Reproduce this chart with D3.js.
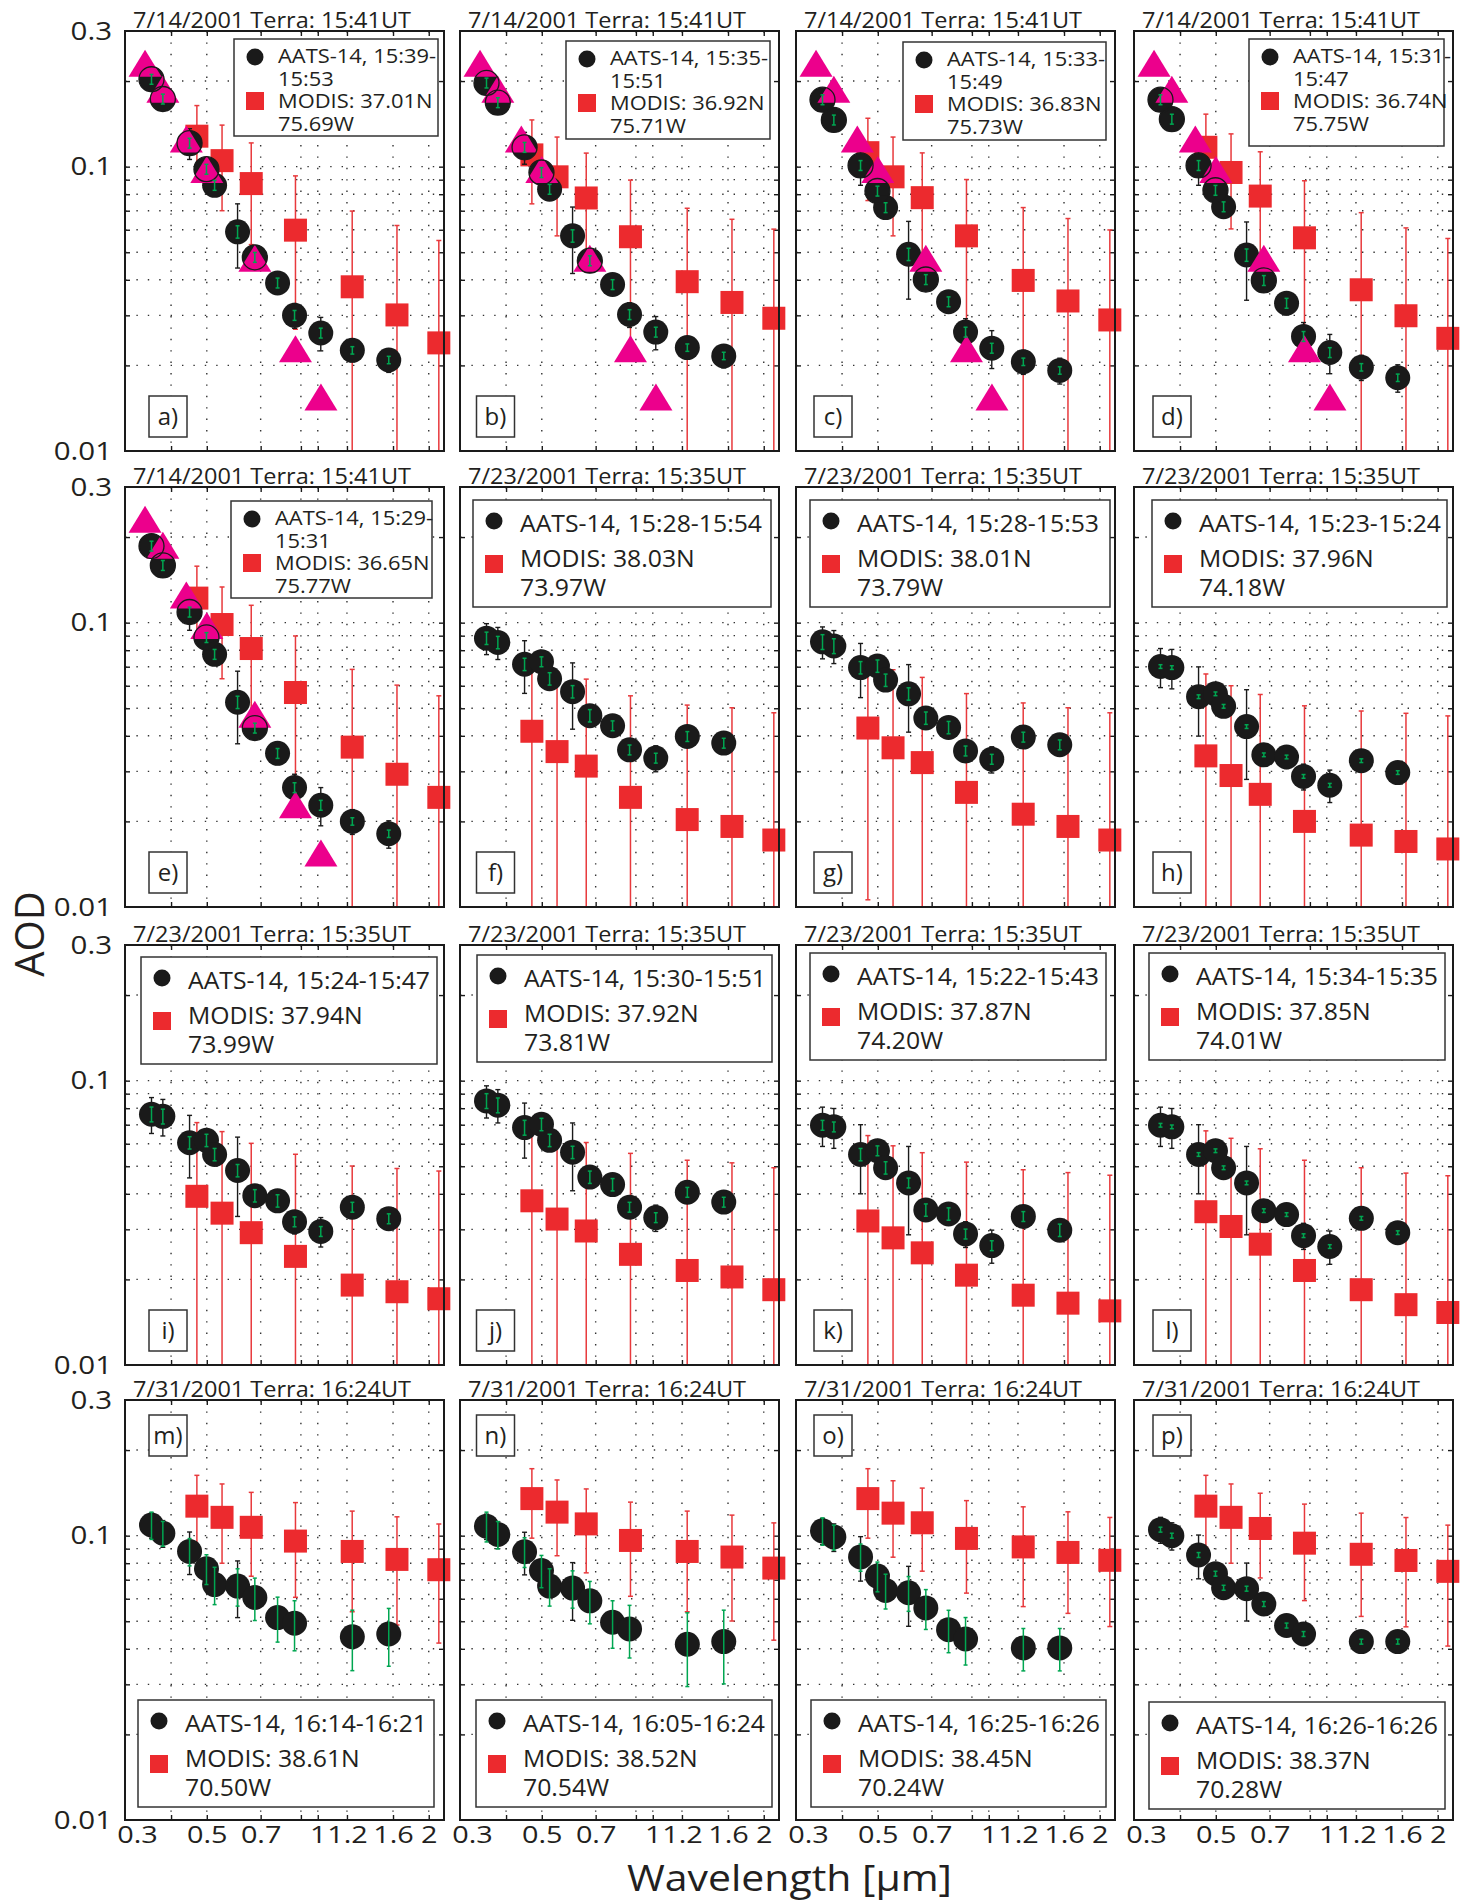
<!DOCTYPE html>
<html lang="en">
<head>
<meta charset="UTF-8">
<title>AATS-14 and MODIS AOD spectra</title>
<script src="https://d3js.org/d3.v7.min.js"></script>
<style>
  body { margin: 0; background: #fff; }
  svg text { font-family: "Open Sans", "DejaVu Sans", sans-serif; fill: #231f20; }
</style>
</head>
<body>
<svg width="1473" height="1901"></svg>
<script>
// wavelengths in micrometres
const aatsWl = [0.354, 0.380, 0.449, 0.499, 0.525, 0.606, 0.675, 0.778, 0.865, 1.019, 1.241, 1.558];
const modisWl = [0.47, 0.55, 0.66, 0.87, 1.24, 1.64, 2.13];
const aeronetWl = [0.34, 0.38, 0.44, 0.50, 0.675, 0.87, 1.02];

const panelLabels = ["a)", "b)", "c)", "d)", "e)", "f)", "g)", "h)", "i)", "j)", "k)", "l)", "m)", "n)", "o)", "p)"];
const titles = [
  "7/14/2001 Terra: 15:41UT", "7/14/2001 Terra: 15:41UT", "7/14/2001 Terra: 15:41UT", "7/14/2001 Terra: 15:41UT",
  "7/14/2001 Terra: 15:41UT", "7/23/2001 Terra: 15:35UT", "7/23/2001 Terra: 15:35UT", "7/23/2001 Terra: 15:35UT",
  "7/23/2001 Terra: 15:35UT", "7/23/2001 Terra: 15:35UT", "7/23/2001 Terra: 15:35UT", "7/23/2001 Terra: 15:35UT",
  "7/31/2001 Terra: 16:24UT", "7/31/2001 Terra: 16:24UT", "7/31/2001 Terra: 16:24UT", "7/31/2001 Terra: 16:24UT"
];
const aatsTimes = ["15:39-15:53", "15:35-15:51", "15:33-15:49", "15:31-15:47", "15:29-15:31",
  "15:28-15:54", "15:28-15:53", "15:23-15:24", "15:24-15:47", "15:30-15:51", "15:22-15:43", "15:34-15:35",
  "16:14-16:21", "16:05-16:24", "16:25-16:26", "16:26-16:26"];
const modisLat = ["37.01N", "36.92N", "36.83N", "36.74N", "36.65N", "38.03N", "38.01N", "37.96N",
  "37.94N", "37.92N", "37.87N", "37.85N", "38.61N", "38.52N", "38.45N", "38.37N"];
const modisLon = ["75.69W", "75.71W", "75.73W", "75.75W", "75.77W", "73.97W", "73.79W", "74.18W",
  "73.99W", "73.81W", "74.20W", "74.01W", "70.50W", "70.54W", "70.24W", "70.28W"];

// AATS-14 AOD, one row per panel
const aatsAod = [
  [0.203, 0.173, 0.121, 0.098, 0.086, 0.059, 0.048, 0.039, 0.030, 0.026, 0.0226, 0.0209],   // a
  [0.197, 0.168, 0.117, 0.0954, 0.0833, 0.0571, 0.0467, 0.0385, 0.0302, 0.0262, 0.0231, 0.0216], // b
  [0.172, 0.146, 0.101, 0.0821, 0.0718, 0.0492, 0.0401, 0.0335, 0.0262, 0.0230, 0.0206, 0.0192], // c
  [0.172, 0.147, 0.101, 0.0826, 0.0723, 0.0489, 0.0398, 0.0331, 0.0253, 0.0222, 0.0197, 0.0181], // d
  [0.186, 0.159, 0.109, 0.0887, 0.0774, 0.0525, 0.0426, 0.0347, 0.0263, 0.0228, 0.0200, 0.0181], // e
  [0.0882, 0.0852, 0.0714, 0.0729, 0.0635, 0.0572, 0.0471, 0.0434, 0.0357, 0.0334, 0.0398, 0.0377], // f
  [0.0856, 0.0828, 0.0695, 0.0704, 0.0628, 0.0562, 0.0462, 0.0428, 0.0354, 0.0331, 0.0396, 0.0372], // g
  [0.0701, 0.0695, 0.0549, 0.0562, 0.0508, 0.0431, 0.0343, 0.0337, 0.0288, 0.0268, 0.0327, 0.0297], // h
  [0.0762, 0.0749, 0.0605, 0.0617, 0.0550, 0.0483, 0.0394, 0.0378, 0.0319, 0.0295, 0.0359, 0.0327], // i
  [0.0849, 0.0820, 0.0684, 0.0702, 0.0617, 0.0560, 0.0458, 0.0431, 0.0359, 0.0330, 0.0405, 0.0374], // j
  [0.0697, 0.0688, 0.0550, 0.0567, 0.0494, 0.0437, 0.0351, 0.0340, 0.0289, 0.0263, 0.0333, 0.0298], // k
  [0.0697, 0.0688, 0.0550, 0.0567, 0.0494, 0.0437, 0.0349, 0.0338, 0.0285, 0.0261, 0.0328, 0.0292], // l
  [0.109, 0.102, 0.0880, 0.0765, 0.0673, 0.0665, 0.0606, 0.0515, 0.0492, null, 0.0441, 0.0451],   // m
  [0.108, 0.101, 0.0878, 0.0754, 0.0665, 0.0654, 0.0590, 0.0496, 0.0470, null, 0.0415, 0.0424],   // n
  [0.104, 0.0990, 0.0842, 0.0721, 0.0642, 0.0630, 0.0557, 0.0467, 0.0433, null, 0.0403, 0.0403],  // o
  [0.105, 0.100, 0.0855, 0.0735, 0.0656, 0.0651, 0.0575, 0.0483, 0.0451, null, 0.0424, 0.0424]    // p
];
// AATS total uncertainty (black bars), absolute AOD
const aatsErr = [0.011, 0.011, 0.015, 0.004, 0.004, 0.015, 0.003, 0.003, 0.003, 0.0035, 0.002, 0.002];
// AATS short-term variability (green bars), percent
const aatsVar = [
  [4, 4, 4, 4, 4, 5, 4, 4, 4, 4, 3, 3],
  [4, 4, 4, 4, 4, 5, 4, 4, 4, 4, 3, 3],
  [4, 4, 4, 4, 4, 5, 4, 4, 4, 4, 3, 3],
  [4, 4, 4, 4, 4, 5, 4, 4, 4, 4, 3, 3],
  [4, 4, 4, 4, 4, 5, 4, 4, 4, 4, 3, 3],
  [5, 5, 5, 4, 5, 5, 5, 4, 4, 4, 4, 4],
  [6, 6, 5, 5, 5, 5, 5, 5, 4, 4, 4, 4],
  [1.5, 1.5, 1.5, 1.5, 1.5, 1.5, 1.5, 1.5, 1.5, 1.5, 1.5, 1.5],
  [6, 6, 5, 5, 5, 5, 5, 5, 4, 4, 4, 4],
  [6, 6, 6, 5, 5, 5, 5, 5, 4, 4, 4, 4],
  [4, 4, 5, 4, 5, 4, 5, 5, 4, 4, 4, 5],
  [1.5, 1.5, 1.5, 1.5, 1.5, 1.5, 1.5, 1.5, 1.5, 1.5, 1.5, 1.5],
  [11, 10, 11, 12, 15, 15, 17, 18, 20, null, 24, 23],
  [12, 11, 12, 13, 15, 15, 17, 19, 21, null, 29, 29],
  [11, 10, 11, 12, 14, 14, 16, 17, 19, null, 17, 17],
  [2, 2, 2, 2, 2, 2, 2, 2, 2, null, 2, 2]
];

// MODIS AOD and its uncertainty, one row per panel
const modisAod = [
  [0.128, 0.105, 0.0872, 0.0598, 0.0378, 0.0301, 0.0240],
  [0.110, 0.0921, 0.0776, 0.0567, 0.0394, 0.0333, 0.0293],
  [0.112, 0.0921, 0.0778, 0.0571, 0.0398, 0.0337, 0.0289],
  [0.117, 0.0954, 0.0788, 0.0562, 0.0369, 0.0299, 0.0249],
  [0.122, 0.0985, 0.0811, 0.0568, 0.0365, 0.0293, 0.0243],
  [0.0415, 0.0352, 0.0313, 0.0243, 0.0203, 0.0192, 0.0172],
  [0.0426, 0.0363, 0.0322, 0.0253, 0.0212, 0.0192, 0.0172],
  [0.0340, 0.0290, 0.0249, 0.0200, 0.0179, 0.0170, 0.0160],
  [0.0392, 0.0342, 0.0292, 0.0241, 0.0191, 0.0181, 0.0171],
  [0.0378, 0.0326, 0.0296, 0.0245, 0.0215, 0.0204, 0.0184],
  [0.0321, 0.0280, 0.0248, 0.0207, 0.0176, 0.0165, 0.0155],
  [0.0346, 0.0307, 0.0266, 0.0215, 0.0184, 0.0163, 0.0153],
  [0.127, 0.116, 0.107, 0.0957, 0.0880, 0.0825, 0.0759],
  [0.135, 0.121, 0.110, 0.0962, 0.0880, 0.0841, 0.0769],
  [0.135, 0.120, 0.111, 0.0978, 0.0913, 0.0873, 0.0819],
  [0.127, 0.116, 0.106, 0.0941, 0.0860, 0.0818, 0.0749]
];
const modisErr = [
  [0.036, 0.035, 0.034, 0.033, 0.032, 0.032, 0.031],
  [0.036, 0.035, 0.034, 0.033, 0.032, 0.032, 0.031],
  [0.036, 0.035, 0.034, 0.033, 0.032, 0.032, 0.031],
  [0.036, 0.035, 0.034, 0.033, 0.032, 0.031, 0.031],
  [0.036, 0.035, 0.034, 0.033, 0.032, 0.031, 0.031],
  [0.032, 0.032, 0.032, 0.031, 0.031, 0.031, 0.031],
  [0.032, 0.032, 0.032, 0.031, 0.031, 0.031, 0.031],
  [0.032, 0.031, 0.031, 0.031, 0.031, 0.031, 0.031],
  [0.032, 0.032, 0.031, 0.031, 0.031, 0.031, 0.031],
  [0.032, 0.032, 0.031, 0.031, 0.031, 0.031, 0.031],
  [0.032, 0.031, 0.031, 0.031, 0.031, 0.031, 0.031],
  [0.032, 0.032, 0.031, 0.031, 0.031, 0.031, 0.031],
  [0.036, 0.036, 0.035, 0.035, 0.034, 0.034, 0.034],
  [0.037, 0.036, 0.036, 0.035, 0.034, 0.034, 0.034],
  [0.037, 0.036, 0.036, 0.035, 0.035, 0.034, 0.034],
  [0.036, 0.036, 0.035, 0.035, 0.034, 0.034, 0.034]
];

// AERONET (7/14 only, panels a-e)
const aeronetAod = [0.231, 0.187, 0.125, 0.0978, 0.0476, 0.0229, 0.0155];
const aeronetPanels = [0, 1, 2, 3, 4];
const ringIdx = [0, 1, 2, 3, 6];   // AATS points outlined in a-e

const xGrid = [0.4, 0.5, 0.7, 0.9, 1, 1.2, 1.6, 2];
const xLabels = [0.3, 0.5, 0.7, 1, 1.2, 1.6, 2];
const yGrid = [0.02, 0.03, 0.04, 0.05, 0.06, 0.07, 0.08, 0.09, 0.1, 0.2];
const yLabels = [0.01, 0.1, 0.3];

// layout
const colLeft = [125, 460, 796, 1134];
const rowTop = [31, 487, 945, 1400];
const panelW = 319, panelH = 420;
const labelBoxX = [149, 476.5, 814, 1153];
const legendBoxes = [
  [234, 39, 204, 97], [566, 41, 204, 98], [903, 42, 203, 98], [1249, 39, 195, 107],
  [231, 501, 201, 97], [473, 500, 298, 107], [810, 500, 300, 107], [1152, 500, 295, 107],
  [141, 957, 296, 107], [477, 955, 295, 107], [810, 953, 296, 107], [1149, 953, 296, 107],
  [138, 1700, 296, 107], [476, 1700, 296, 107], [811, 1700, 295, 107], [1149, 1702, 296, 107]
];

const RED = "#ec2a2e", RED_BAR = "#e8393c", MAGENTA = "#ec008c", GREEN = "#00a651", DARK = "#1a1a1a";

const svg = d3.select("svg");

function errBar(g, xp, y, lo, hi, color, cap, width) {
  const loC = Math.max(lo, 0.01);
  g.append("line").attr("x1", xp).attr("x2", xp)
    .attr("y1", y(hi)).attr("y2", y(loC))
    .attr("stroke", color).attr("stroke-width", width);
  g.append("line").attr("x1", xp - cap).attr("x2", xp + cap)
    .attr("y1", y(hi)).attr("y2", y(hi))
    .attr("stroke", color).attr("stroke-width", width);
  if (lo > 0.01) {
    g.append("line").attr("x1", xp - cap).attr("x2", xp + cap)
      .attr("y1", y(lo)).attr("y2", y(lo))
      .attr("stroke", color).attr("stroke-width", width);
  }
}

// widen a text's glyphs by a factor (reference font runs wider than Open Sans)
function widen(sel, k) {
  sel.each(function () {
    const w = this.getComputedTextLength();
    d3.select(this).attr("textLength", w * k).attr("lengthAdjust", "spacingAndGlyphs");
  });
}

function drawPanel(i) {
  const col = i % 4, row = Math.floor(i / 4);
  const L = colLeft[col], T = rowTop[row], R = L + panelW, B = T + panelH;
  const x = d3.scaleLog().domain([0.3, 2.2]).range([L, R]);
  const y = d3.scaleLog().domain([0.01, 0.3]).range([B, T]);
  const g = svg.append("g");

  // dotted grid
  g.selectAll(".gx").data(xGrid).join("line")
    .attr("x1", d => x(d)).attr("x2", d => x(d)).attr("y1", T).attr("y2", B)
    .attr("stroke", "#333").attr("stroke-width", 1.4).attr("stroke-dasharray", "1.4 10");
  g.selectAll(".gy").data(yGrid).join("line")
    .attr("y1", d => y(d)).attr("y2", d => y(d)).attr("x1", L).attr("x2", R)
    .attr("stroke", "#333").attr("stroke-width", 1.4).attr("stroke-dasharray", "1.4 10");

  // inward ticks on all sides
  const tickAxes = [
    [d3.axisBottom(x).tickValues(xGrid), `translate(0,${B})`],
    [d3.axisTop(x).tickValues(xGrid), `translate(0,${T})`],
    [d3.axisLeft(y).tickValues(yGrid), `translate(${L},0)`],
    [d3.axisRight(y).tickValues(yGrid), `translate(${R},0)`]
  ];
  tickAxes.forEach(([ax, tr]) => {
    const a = g.append("g").attr("transform", tr).call(ax.tickSize(-5).tickFormat(""));
    a.select(".domain").remove();
    a.selectAll("line").attr("stroke", DARK).attr("stroke-width", 1.4);
  });

  // MODIS
  modisWl.forEach((w, k) => {
    const v = modisAod[i][k], e = modisErr[i][k];
    errBar(g, x(w), y, v - e, v + e, RED_BAR, 2.5, 1.5);
  });
  g.selectAll(".modis").data(modisWl).join("rect")
    .attr("x", d => x(d) - 11.5).attr("y", (d, k) => y(modisAod[i][k]) - 11.5)
    .attr("width", 23).attr("height", 23).attr("fill", RED);

  // AATS-14
  const aats = aatsWl.map((w, k) => ({ w, v: aatsAod[i][k], e: aatsErr[k], p: aatsVar[i][k] }))
    .filter(d => d.v !== null);
  aats.forEach(d => errBar(g, x(d.w), y, d.v - d.e, d.v + d.e, DARK, 2.5, 1.4));
  g.selectAll(".aats").data(aats).join("circle")
    .attr("cx", d => x(d.w)).attr("cy", d => y(d.v)).attr("r", 12.5).attr("fill", DARK);

  // AERONET triangles and outlined AATS points
  if (aeronetPanels.includes(i)) {
    g.selectAll(".aer").data(aeronetWl).join("path")
      .attr("d", (d, k) => {
        const cx = x(d), cy = y(aeronetAod[k]);
        return `M${cx},${cy - 13.5}L${cx + 16.5},${cy + 13.5}L${cx - 16.5},${cy + 13.5}Z`;
      })
      .attr("fill", MAGENTA);
    g.selectAll(".ring").data(ringIdx).join("circle")
      .attr("cx", k => x(aatsWl[k])).attr("cy", k => y(aatsAod[i][k])).attr("r", 12.5)
      .attr("fill", "none").attr("stroke", DARK).attr("stroke-width", 1.3);
  }

  aats.forEach(d => {
    const f = d.p / 100;
    errBar(g, x(d.w), y, d.v * (1 - f), d.v * (1 + f), GREEN, 2, 1.5);
  });

  // legend
  const [bx, by, bw, bh] = legendBoxes[i];
  const lg = g.append("g");
  lg.append("rect").attr("x", bx).attr("y", by).attr("width", bw).attr("height", bh)
    .attr("fill", "#fff").attr("stroke", "#333").attr("stroke-width", 1.5);
  let lines, dotY, sqY, baseY, textX, fs, aatsW;
  if (row === 0 || i === 4) {
    const t = aatsTimes[i].split("-");
    lines = [`AATS-14, ${t[0]}-`, t[1], `MODIS: ${modisLat[i]}`, modisLon[i]];
    dotY = 18; sqY = 62; baseY = [24, 47, 69, 92]; textX = 44; fs = 20; aatsW = 158;
  } else {
    lines = [`AATS-14, ${aatsTimes[i]}`, `MODIS: ${modisLat[i]}`, modisLon[i]];
    dotY = 21; sqY = 64; baseY = [32, 67, 96]; textX = 47; fs = 23; aatsW = 242;
  }
  lg.append("circle").attr("cx", bx + 21).attr("cy", by + dotY).attr("r", 8.5).attr("fill", DARK);
  lg.append("rect").attr("x", bx + 21 - 9).attr("y", by + sqY - 9).attr("width", 18).attr("height", 18).attr("fill", RED);
  const texts = lines.map((s, k) => lg.append("text").attr("x", bx + textX).attr("y", by + baseY[k])
    .attr("font-size", fs).text(s));
  const k0 = aatsW / texts[0].node().getComputedTextLength();
  texts.forEach(t => widen(t, k0));

  // panel label box
  const ly = row === 3 ? T + 15 : B - 55;
  g.append("rect").attr("x", labelBoxX[col]).attr("y", ly).attr("width", 38).attr("height", 41)
    .attr("fill", "#fff").attr("stroke", "#333").attr("stroke-width", 1.5);
  g.append("text").attr("x", labelBoxX[col] + 19).attr("y", ly + 29).attr("text-anchor", "middle")
    .attr("font-size", 24).text(panelLabels[i]);

  // title
  g.append("text").attr("x", L + 8).attr("y", T - 3).attr("font-size", 22)
    .attr("textLength", 278).attr("lengthAdjust", "spacingAndGlyphs").text(titles[i]);

  // frame
  g.append("rect").attr("x", L).attr("y", T).attr("width", panelW).attr("height", panelH)
    .attr("fill", "none").attr("stroke", DARK).attr("stroke-width", 2);

  // tick labels
  if (col === 0) {
    const ya = g.append("g").attr("transform", `translate(${L},0)`)
      .call(d3.axisLeft(y).tickValues(yLabels).tickSize(0).tickPadding(13).tickFormat(d => String(d)));
    ya.select(".domain").remove();
    ya.selectAll("text").attr("font-size", 25).attr("font-family", null).attr("fill", "#231f20");
    widen(ya.selectAll("text"), 1.18);
  }
  if (row === 3) {
    const xa = g.append("g").attr("transform", `translate(0,${B})`)
      .call(d3.axisBottom(x).tickValues(xLabels).tickSize(0).tickPadding(6).tickFormat(d => String(d)));
    xa.select(".domain").remove();
    xa.selectAll("text").attr("font-size", 24).attr("font-family", null).attr("fill", "#231f20")
      .attr("dx", d => d === 0.3 ? 12 : 0);
    widen(xa.selectAll("text"), 1.2);
  }
}

panelLabels.forEach((_, i) => drawPanel(i));

// axis titles
svg.append("text").attr("transform", "translate(44,934) rotate(-90)")
  .attr("text-anchor", "middle").attr("font-size", 40).text("AOD");
svg.append("text").attr("x", 627).attr("y", 1891).attr("font-size", 36)
  .attr("textLength", 325).attr("lengthAdjust", "spacingAndGlyphs").text("Wavelength [µm]");
</script>
</body>
</html>
